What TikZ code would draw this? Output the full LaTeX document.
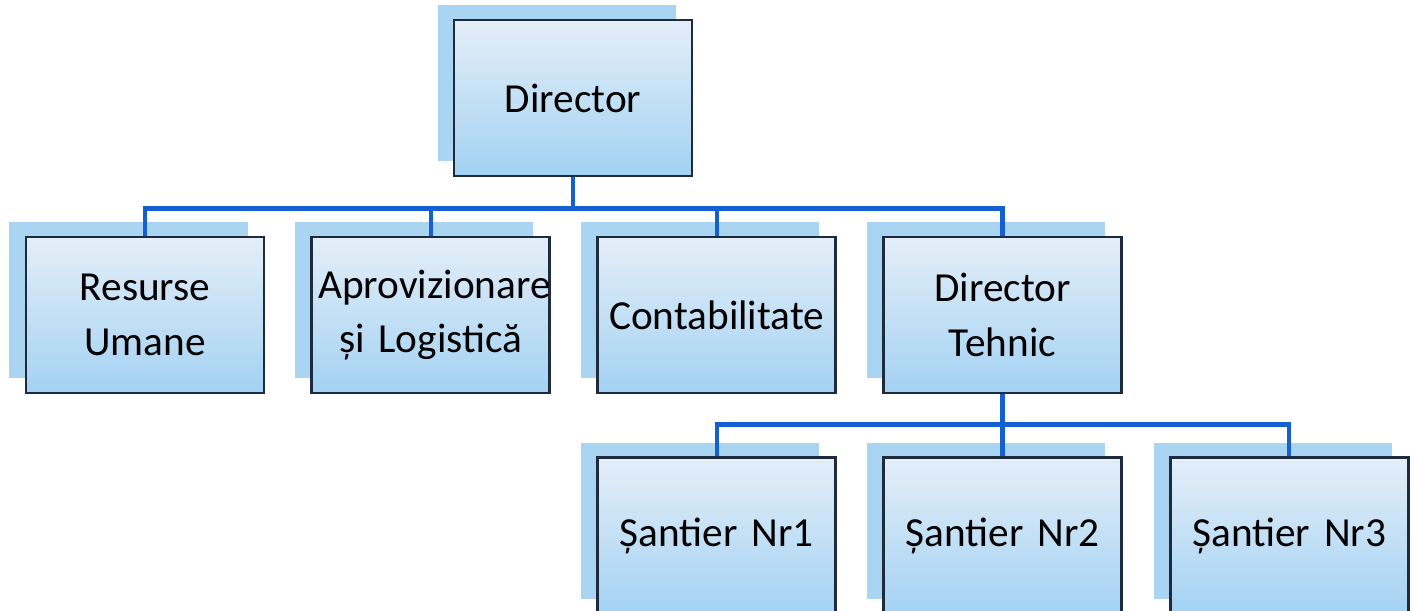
\documentclass[tikz,border=0pt]{standalone}
\usepackage{fontspec}
\setmainfont{Carlito}
\usetikzlibrary{positioning,shadows}

\definecolor{boxtop}{HTML}{E4EEF8}
\definecolor{boxbottom}{HTML}{A3D2F3}
\definecolor{shadowblue}{HTML}{A9D5F2}
\definecolor{linkblue}{HTML}{1560D0}
\definecolor{boxline}{HTML}{1E2B3C}

\tikzset{
    orgbox/.style={draw=boxline, line width=1.6pt, rectangle,
        top color=boxtop, bottom color=boxbottom,
        minimum width=4.76cm, minimum height=3.12cm,
        inner sep=0.1cm, text width=4.5cm, align=center,
        font=\fontsize{23.5}{31}\selectfont,
        general shadow={shadow xshift=-0.33cm, shadow yshift=0.3cm, fill=shadowblue}},
    link/.style={draw=linkblue, line width=2.4pt}
}

\begin{document}
\begin{tikzpicture}
    \useasboundingbox (0,0) rectangle (28.24,-12.2);
    % top
    \node[orgbox] (director) at (11.46,-1.96) {Director};
    % second level
    \node[orgbox] (resurse) at (2.9,-6.3) {Resurse\\Umane};
    \node[orgbox, right=0.9cm of resurse] (aprov) {Aprovizionare\\și Logistică};
    \node[orgbox, right=0.9cm of aprov] (contab) {Contabilitate};
    \node[orgbox, right=0.9cm of contab] (dtehnic) {Director\\Tehnic};
    % third level
    \node[orgbox, below=1.24cm of dtehnic] (santier2) {Șantier Nr2};
    \node[orgbox, left=0.9cm of santier2] (santier1) {Șantier Nr1};
    \node[orgbox, right=0.92cm of santier2] (santier3) {Șantier Nr3};

    \foreach \dep in {resurse,aprov,contab,dtehnic}
        \draw[link] (director.south) -- ++(0,-0.62) -| (\dep.north);
    \foreach \dep in {santier1,santier2,santier3}
        \draw[link] (dtehnic.south) -- ++(0,-0.6) -| (\dep.north);
\end{tikzpicture}
\end{document}
